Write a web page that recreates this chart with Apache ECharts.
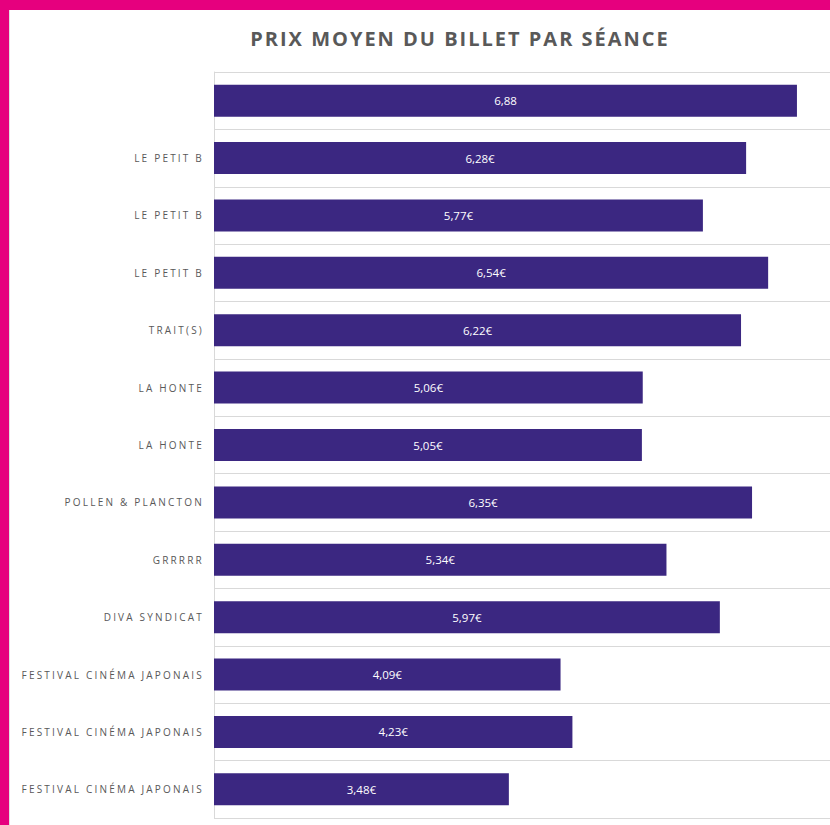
<!DOCTYPE html>
<html>
<head>
<meta charset="utf-8">
<script src="https://cdn.jsdelivr.net/npm/echarts@6/dist/echarts.min.js"></script>
<style>
  html, body { margin: 0; padding: 0; background: #fff; }
  #chart { width: 830px; height: 825px; }
  /* category labels are right aligned (text-anchor end) */
  #chart text[text-anchor="end"] { letter-spacing: 2.2px; }
  #chart text.titre { letter-spacing: 2px; }
</style>
</head>
<body>
<div id="chart"></div>
<script>
// données
const seances = [
  '', 'LE PETIT B', 'LE PETIT B', 'LE PETIT B', 'TRAIT(S)', 'LA HONTE', 'LA HONTE',
  'POLLEN & PLANCTON', 'GRRRRR', 'DIVA SYNDICAT',
  'FESTIVAL CINÉMA JAPONAIS', 'FESTIVAL CINÉMA JAPONAIS', 'FESTIVAL CINÉMA JAPONAIS'
]
const prixMoyen = [6.88, 6.28, 5.77, 6.54, 6.22, 5.06, 5.05, 6.35, 5.34, 5.97, 4.09, 4.23, 3.48]
const unites = ['', '€', '€', '€', '€', '€', '€', '€', '€', '€', '€', '€', '€']

const titre = 'PRIX MOYEN DU BILLET PAR SÉANCE'
const pink = '#e6007e'
const violet = '#3b2781'

let myChart = echarts.init(document.getElementById('chart'), null, { renderer: 'svg' })

let option = {
  animation: false,
  title: {
    text: titre,
    left: 455,
    textAlign: 'center',
    top: 23,
    textStyle: {
      fontFamily: 'Open Sans',
      fontWeight: 'bold',
      fontSize: 20,
      color: '#595959'
    }
  },
  graphic: [
    { type: 'rect', shape: { x: 0, y: 0, width: 830, height: 10 }, style: { fill: pink } },
    { type: 'rect', shape: { x: 0, y: 0, width: 9, height: 825 }, style: { fill: pink } },
    { type: 'rect', shape: { x: 9, y: 10, width: 1, height: 815 }, style: { fill: '#e0e0e0' } }
  ],
  grid: {
    left: 214,
    right: 0,
    top: 72,
    bottom: 7
  },
  xAxis: {
    type: 'value',
    min: 0,
    max: 7.27,
    axisLabel: { show: false },
    axisLine: { show: false },
    axisTick: { show: false },
    splitLine: { show: false }
  },
  yAxis: {
    type: 'category',
    inverse: true,
    data: seances,
    axisLine: { show: true, lineStyle: { color: '#d9d9d9', width: 1 } },
    axisTick: { show: false },
    splitLine: { show: true, lineStyle: { color: '#d9d9d9', width: 1 } },
    axisLabel: {
      margin: 10,
      fontFamily: 'Open Sans',
      fontSize: 10,
      color: '#595959'
    }
  },
  series: [
    {
      type: 'bar',
      data: prixMoyen,
      barWidth: 32,
      itemStyle: { color: violet },
      label: {
        show: true,
        position: 'inside',
        color: '#fff',
        fontFamily: 'Open Sans',
        fontSize: 11.5,
        formatter: (p) => p.value.toFixed(2).replace('.', ',') + unites[p.dataIndex]
      }
    }
  ]
}

option && myChart.setOption(option)

// espacement des lettres du titre (le rendu svg le permet)
function espacerTitre() {
  document.querySelectorAll('#chart text').forEach((t) => {
    if (t.textContent === titre) t.classList.add('titre')
  })
}
espacerTitre()
myChart.on('finished', espacerTitre)
</script>
</body>
</html>
